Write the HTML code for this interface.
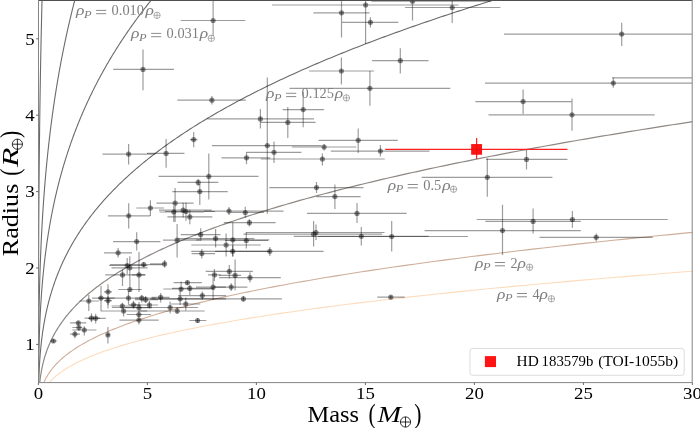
<!DOCTYPE html>
<html><head><meta charset="utf-8"><style>
html,body{margin:0;padding:0;background:#fff;}
body{width:700px;height:428px;overflow:hidden;}
svg{display:block;will-change:transform;}
text{font-family:"Liberation Serif",serif;}
</style></head><body>
<svg width="700" height="428" viewBox="0 0 700 428">
<defs><clipPath id="ax"><rect x="38.5" y="0.6" width="653.7" height="382.0"/></clipPath></defs>
<rect width="700" height="428" fill="#fff"/>
<g clip-path="url(#ax)" fill="none">
<path d="M38.40,382.60 L38.40,381.65 L38.40,380.69 L38.40,379.74 L38.40,378.78 L38.40,377.83 L38.40,376.87 L38.40,375.92 L38.40,374.96 L38.41,374.00 L38.41,373.05 L38.41,372.10 L38.41,371.14 L38.41,370.19 L38.41,369.23 L38.41,368.28 L38.41,367.32 L38.41,366.37 L38.41,365.41 L38.41,364.46 L38.41,363.50 L38.41,362.55 L38.41,361.59 L38.41,360.64 L38.41,359.68 L38.41,358.73 L38.41,357.77 L38.41,356.81 L38.41,355.86 L38.41,354.91 L38.41,353.95 L38.42,353.00 L38.42,352.04 L38.42,351.09 L38.42,350.13 L38.42,349.18 L38.42,348.22 L38.42,347.27 L38.42,346.31 L38.42,345.36 L38.42,344.40 L38.42,343.45 L38.42,342.49 L38.42,341.54 L38.43,340.58 L38.43,339.62 L38.43,338.67 L38.43,337.72 L38.43,336.76 L38.43,335.81 L38.43,334.85 L38.43,333.90 L38.43,332.94 L38.43,331.99 L38.44,331.03 L38.44,330.08 L38.44,329.12 L38.44,328.17 L38.44,327.21 L38.44,326.25 L38.44,325.30 L38.44,324.35 L38.45,323.39 L38.45,322.44 L38.45,321.48 L38.45,320.53 L38.45,319.57 L38.45,318.62 L38.45,317.66 L38.46,316.71 L38.46,315.75 L38.46,314.80 L38.46,313.84 L38.46,312.88 L38.46,311.93 L38.46,310.98 L38.47,310.02 L38.47,309.07 L38.47,308.11 L38.47,307.16 L38.47,306.20 L38.48,305.25 L38.48,304.29 L38.48,303.34 L38.48,302.38 L38.48,301.43 L38.49,300.47 L38.49,299.52 L38.49,298.56 L38.49,297.61 L38.49,296.65 L38.50,295.70 L38.50,294.74 L38.50,293.79 L38.50,292.83 L38.50,291.88 L38.51,290.92 L38.51,289.97 L38.51,289.01 L38.51,288.06 L38.52,287.10 L38.52,286.15 L38.52,285.19 L38.52,284.24 L38.53,283.28 L38.53,282.33 L38.53,281.37 L38.54,280.42 L38.54,279.46 L38.54,278.50 L38.54,277.55 L38.55,276.60 L38.55,275.64 L38.55,274.69 L38.56,273.73 L38.56,272.78 L38.56,271.82 L38.56,270.87 L38.57,269.91 L38.57,268.96 L38.57,268.00 L38.58,267.05 L38.58,266.09 L38.58,265.13 L38.59,264.18 L38.59,263.23 L38.59,262.27 L38.60,261.32 L38.60,260.36 L38.61,259.41 L38.61,258.45 L38.61,257.50 L38.62,256.54 L38.62,255.59 L38.62,254.63 L38.63,253.68 L38.63,252.72 L38.64,251.77 L38.64,250.81 L38.64,249.86 L38.65,248.90 L38.65,247.94 L38.66,246.99 L38.66,246.03 L38.67,245.08 L38.67,244.12 L38.67,243.17 L38.68,242.22 L38.68,241.26 L38.69,240.31 L38.69,239.35 L38.70,238.40 L38.70,237.44 L38.71,236.49 L38.71,235.53 L38.72,234.58 L38.72,233.62 L38.73,232.67 L38.73,231.71 L38.74,230.76 L38.74,229.80 L38.75,228.84 L38.75,227.89 L38.76,226.94 L38.76,225.98 L38.77,225.03 L38.77,224.07 L38.78,223.12 L38.78,222.16 L38.79,221.21 L38.79,220.25 L38.80,219.29 L38.81,218.34 L38.81,217.38 L38.82,216.43 L38.82,215.48 L38.83,214.52 L38.84,213.57 L38.84,212.61 L38.85,211.66 L38.85,210.70 L38.86,209.75 L38.87,208.79 L38.87,207.84 L38.88,206.88 L38.88,205.93 L38.89,204.97 L38.90,204.02 L38.90,203.06 L38.91,202.11 L38.92,201.15 L38.92,200.19 L38.93,199.24 L38.94,198.28 L38.95,197.33 L38.95,196.38 L38.96,195.42 L38.97,194.47 L38.97,193.51 L38.98,192.56 L38.99,191.60 L39.00,190.64 L39.00,189.69 L39.01,188.74 L39.02,187.78 L39.03,186.83 L39.03,185.87 L39.04,184.92 L39.05,183.96 L39.06,183.01 L39.07,182.05 L39.07,181.09 L39.08,180.14 L39.09,179.19 L39.10,178.23 L39.11,177.28 L39.11,176.32 L39.12,175.37 L39.13,174.41 L39.14,173.46 L39.15,172.50 L39.16,171.54 L39.17,170.59 L39.17,169.63 L39.18,168.68 L39.19,167.72 L39.20,166.77 L39.21,165.82 L39.22,164.86 L39.23,163.91 L39.24,162.95 L39.25,162.00 L39.26,161.04 L39.27,160.09 L39.28,159.13 L39.29,158.18 L39.30,157.22 L39.30,156.27 L39.31,155.31 L39.32,154.36 L39.33,153.40 L39.34,152.44 L39.35,151.49 L39.37,150.53 L39.38,149.58 L39.39,148.62 L39.40,147.67 L39.41,146.72 L39.42,145.76 L39.43,144.81 L39.44,143.85 L39.45,142.89 L39.46,141.94 L39.47,140.98 L39.48,140.03 L39.49,139.08 L39.50,138.12 L39.52,137.17 L39.53,136.21 L39.54,135.26 L39.55,134.30 L39.56,133.34 L39.57,132.39 L39.58,131.44 L39.60,130.48 L39.61,129.53 L39.62,128.57 L39.63,127.62 L39.64,126.66 L39.66,125.71 L39.67,124.75 L39.68,123.80 L39.69,122.84 L39.71,121.88 L39.72,120.93 L39.73,119.98 L39.74,119.02 L39.76,118.06 L39.77,117.11 L39.78,116.16 L39.80,115.20 L39.81,114.25 L39.82,113.29 L39.83,112.34 L39.85,111.38 L39.86,110.43 L39.88,109.47 L39.89,108.51 L39.90,107.56 L39.92,106.61 L39.93,105.65 L39.94,104.69 L39.96,103.74 L39.97,102.79 L39.99,101.83 L40.00,100.88 L40.02,99.92 L40.03,98.96 L40.04,98.01 L40.06,97.06 L40.07,96.10 L40.09,95.14 L40.10,94.19 L40.12,93.24 L40.13,92.28 L40.15,91.32 L40.16,90.37 L40.18,89.41 L40.19,88.46 L40.21,87.50 L40.23,86.55 L40.24,85.59 L40.26,84.64 L40.27,83.69 L40.29,82.73 L40.30,81.77 L40.32,80.82 L40.34,79.86 L40.35,78.91 L40.37,77.96 L40.39,77.00 L40.40,76.04 L40.42,75.09 L40.44,74.14 L40.45,73.18 L40.47,72.23 L40.49,71.27 L40.50,70.31 L40.52,69.36 L40.54,68.41 L40.56,67.45 L40.57,66.50 L40.59,65.54 L40.61,64.59 L40.63,63.63 L40.65,62.68 L40.66,61.72 L40.68,60.76 L40.70,59.81 L40.72,58.86 L40.74,57.90 L40.75,56.94 L40.77,55.99 L40.79,55.04 L40.81,54.08 L40.83,53.12 L40.85,52.17 L40.87,51.21 L40.89,50.26 L40.91,49.31 L40.93,48.35 L40.95,47.39 L40.96,46.44 L40.98,45.49 L41.00,44.53 L41.02,43.57 L41.04,42.62 L41.06,41.66 L41.08,40.71 L41.10,39.75 L41.12,38.80 L41.15,37.84 L41.17,36.89 L41.19,35.94 L41.21,34.98 L41.23,34.02 L41.25,33.07 L41.27,32.11 L41.29,31.16 L41.31,30.20 L41.33,29.25 L41.36,28.29 L41.38,27.34 L41.40,26.39 L41.42,25.43 L41.44,24.48 L41.47,23.52 L41.49,22.56 L41.51,21.61 L41.53,20.66 L41.55,19.70 L41.58,18.75 L41.60,17.79 L41.62,16.84 L41.65,15.88 L41.67,14.93 L41.69,13.97 L41.71,13.01 L41.74,12.06 L41.76,11.11 L41.79,10.15 L41.81,9.19 L41.83,8.24 L41.86,7.29 L41.88,6.33 L41.90,5.38 L41.93,4.42 L41.95,3.46 L41.98,2.51 L42.00,1.56 L42.03,0.60" stroke="#6a6a6a" stroke-width="1.1"/>
<path d="M38.43,382.60 L38.43,381.65 L38.43,380.69 L38.43,379.74 L38.44,378.78 L38.44,377.83 L38.44,376.87 L38.44,375.92 L38.45,374.96 L38.45,374.00 L38.45,373.05 L38.46,372.10 L38.46,371.14 L38.46,370.19 L38.47,369.23 L38.47,368.28 L38.47,367.32 L38.48,366.37 L38.48,365.41 L38.49,364.46 L38.49,363.50 L38.50,362.55 L38.50,361.59 L38.51,360.64 L38.51,359.68 L38.52,358.73 L38.52,357.77 L38.53,356.81 L38.53,355.86 L38.54,354.91 L38.55,353.95 L38.55,353.00 L38.56,352.04 L38.57,351.09 L38.57,350.13 L38.58,349.18 L38.59,348.22 L38.59,347.27 L38.60,346.31 L38.61,345.36 L38.62,344.40 L38.63,343.45 L38.63,342.49 L38.64,341.54 L38.65,340.58 L38.66,339.62 L38.67,338.67 L38.68,337.72 L38.69,336.76 L38.70,335.81 L38.71,334.85 L38.72,333.90 L38.73,332.94 L38.74,331.99 L38.75,331.03 L38.77,330.08 L38.78,329.12 L38.79,328.17 L38.80,327.21 L38.81,326.25 L38.83,325.30 L38.84,324.35 L38.85,323.39 L38.87,322.44 L38.88,321.48 L38.89,320.53 L38.91,319.57 L38.92,318.62 L38.94,317.66 L38.95,316.71 L38.97,315.75 L38.98,314.80 L39.00,313.84 L39.01,312.88 L39.03,311.93 L39.05,310.98 L39.06,310.02 L39.08,309.07 L39.10,308.11 L39.12,307.16 L39.14,306.20 L39.15,305.25 L39.17,304.29 L39.19,303.34 L39.21,302.38 L39.23,301.43 L39.25,300.47 L39.27,299.52 L39.29,298.56 L39.31,297.61 L39.34,296.65 L39.36,295.70 L39.38,294.74 L39.40,293.79 L39.42,292.83 L39.45,291.88 L39.47,290.92 L39.49,289.97 L39.52,289.01 L39.54,288.06 L39.57,287.10 L39.59,286.15 L39.62,285.19 L39.65,284.24 L39.67,283.28 L39.70,282.33 L39.73,281.37 L39.75,280.42 L39.78,279.46 L39.81,278.50 L39.84,277.55 L39.87,276.60 L39.90,275.64 L39.92,274.69 L39.96,273.73 L39.99,272.78 L40.02,271.82 L40.05,270.87 L40.08,269.91 L40.11,268.96 L40.14,268.00 L40.18,267.05 L40.21,266.09 L40.24,265.13 L40.28,264.18 L40.31,263.23 L40.35,262.27 L40.38,261.32 L40.42,260.36 L40.46,259.41 L40.49,258.45 L40.53,257.50 L40.57,256.54 L40.60,255.59 L40.64,254.63 L40.68,253.68 L40.72,252.72 L40.76,251.77 L40.80,250.81 L40.84,249.86 L40.88,248.90 L40.92,247.94 L40.97,246.99 L41.01,246.03 L41.05,245.08 L41.10,244.12 L41.14,243.17 L41.18,242.22 L41.23,241.26 L41.27,240.31 L41.32,239.35 L41.37,238.40 L41.41,237.44 L41.46,236.49 L41.51,235.53 L41.56,234.58 L41.61,233.62 L41.66,232.67 L41.71,231.71 L41.76,230.76 L41.81,229.80 L41.86,228.84 L41.91,227.89 L41.96,226.94 L42.01,225.98 L42.07,225.03 L42.12,224.07 L42.18,223.12 L42.23,222.16 L42.29,221.21 L42.34,220.25 L42.40,219.29 L42.46,218.34 L42.51,217.38 L42.57,216.43 L42.63,215.48 L42.69,214.52 L42.75,213.57 L42.81,212.61 L42.87,211.66 L42.93,210.70 L43.00,209.75 L43.06,208.79 L43.12,207.84 L43.19,206.88 L43.25,205.93 L43.31,204.97 L43.38,204.02 L43.45,203.06 L43.51,202.11 L43.58,201.15 L43.65,200.19 L43.72,199.24 L43.79,198.28 L43.86,197.33 L43.93,196.38 L44.00,195.42 L44.07,194.47 L44.14,193.51 L44.21,192.56 L44.29,191.60 L44.36,190.64 L44.43,189.69 L44.51,188.74 L44.59,187.78 L44.66,186.83 L44.74,185.87 L44.82,184.92 L44.89,183.96 L44.97,183.01 L45.05,182.05 L45.13,181.09 L45.21,180.14 L45.30,179.19 L45.38,178.23 L45.46,177.28 L45.54,176.32 L45.63,175.37 L45.71,174.41 L45.80,173.46 L45.88,172.50 L45.97,171.54 L46.06,170.59 L46.15,169.63 L46.23,168.68 L46.32,167.72 L46.41,166.77 L46.50,165.82 L46.60,164.86 L46.69,163.91 L46.78,162.95 L46.87,162.00 L46.97,161.04 L47.06,160.09 L47.16,159.13 L47.25,158.18 L47.35,157.22 L47.45,156.27 L47.55,155.31 L47.65,154.36 L47.75,153.40 L47.85,152.44 L47.95,151.49 L48.05,150.53 L48.15,149.58 L48.26,148.62 L48.36,147.67 L48.47,146.72 L48.57,145.76 L48.68,144.81 L48.78,143.85 L48.89,142.89 L49.00,141.94 L49.11,140.98 L49.22,140.03 L49.33,139.08 L49.44,138.12 L49.55,137.17 L49.67,136.21 L49.78,135.26 L49.90,134.30 L50.01,133.34 L50.13,132.39 L50.24,131.44 L50.36,130.48 L50.48,129.53 L50.60,128.57 L50.72,127.62 L50.84,126.66 L50.96,125.71 L51.08,124.75 L51.21,123.80 L51.33,122.84 L51.46,121.88 L51.58,120.93 L51.71,119.98 L51.84,119.02 L51.96,118.06 L52.09,117.11 L52.22,116.16 L52.35,115.20 L52.48,114.25 L52.62,113.29 L52.75,112.34 L52.88,111.38 L53.02,110.43 L53.15,109.47 L53.29,108.51 L53.42,107.56 L53.56,106.61 L53.70,105.65 L53.84,104.69 L53.98,103.74 L54.12,102.79 L54.26,101.83 L54.41,100.88 L54.55,99.92 L54.70,98.96 L54.84,98.01 L54.99,97.06 L55.13,96.10 L55.28,95.14 L55.43,94.19 L55.58,93.24 L55.73,92.28 L55.88,91.32 L56.04,90.37 L56.19,89.41 L56.34,88.46 L56.50,87.50 L56.66,86.55 L56.81,85.59 L56.97,84.64 L57.13,83.69 L57.29,82.73 L57.45,81.77 L57.61,80.82 L57.77,79.86 L57.94,78.91 L58.10,77.96 L58.27,77.00 L58.43,76.04 L58.60,75.09 L58.77,74.14 L58.93,73.18 L59.10,72.23 L59.28,71.27 L59.45,70.31 L59.62,69.36 L59.79,68.41 L59.97,67.45 L60.14,66.50 L60.32,65.54 L60.50,64.59 L60.67,63.63 L60.85,62.68 L61.03,61.72 L61.21,60.76 L61.40,59.81 L61.58,58.86 L61.76,57.90 L61.95,56.94 L62.13,55.99 L62.32,55.04 L62.51,54.08 L62.70,53.12 L62.89,52.17 L63.08,51.21 L63.27,50.26 L63.46,49.31 L63.66,48.35 L63.85,47.39 L64.05,46.44 L64.24,45.49 L64.44,44.53 L64.64,43.57 L64.84,42.62 L65.04,41.66 L65.24,40.71 L65.45,39.75 L65.65,38.80 L65.85,37.84 L66.06,36.89 L66.27,35.94 L66.48,34.98 L66.68,34.02 L66.89,33.07 L67.11,32.11 L67.32,31.16 L67.53,30.20 L67.75,29.25 L67.96,28.29 L68.18,27.34 L68.39,26.39 L68.61,25.43 L68.83,24.48 L69.05,23.52 L69.27,22.56 L69.50,21.61 L69.72,20.66 L69.95,19.70 L70.17,18.75 L70.40,17.79 L70.63,16.84 L70.86,15.88 L71.09,14.93 L71.32,13.97 L71.55,13.01 L71.78,12.06 L72.02,11.11 L72.25,10.15 L72.49,9.19 L72.73,8.24 L72.97,7.29 L73.21,6.33 L73.45,5.38 L73.69,4.42 L73.93,3.46 L74.18,2.51 L74.42,1.56 L74.67,0.60" stroke="#6a6a6a" stroke-width="1.1"/>
<path d="M38.48,382.60 L38.49,381.65 L38.50,380.69 L38.50,379.74 L38.51,378.78 L38.52,377.83 L38.53,376.87 L38.54,375.92 L38.55,374.96 L38.56,374.00 L38.56,373.05 L38.58,372.10 L38.59,371.14 L38.60,370.19 L38.61,369.23 L38.62,368.28 L38.63,367.32 L38.64,366.37 L38.66,365.41 L38.67,364.46 L38.69,363.50 L38.70,362.55 L38.71,361.59 L38.73,360.64 L38.75,359.68 L38.76,358.73 L38.78,357.77 L38.80,356.81 L38.82,355.86 L38.83,354.91 L38.85,353.95 L38.87,353.00 L38.89,352.04 L38.91,351.09 L38.93,350.13 L38.96,349.18 L38.98,348.22 L39.00,347.27 L39.03,346.31 L39.05,345.36 L39.08,344.40 L39.10,343.45 L39.13,342.49 L39.15,341.54 L39.18,340.58 L39.21,339.62 L39.24,338.67 L39.27,337.72 L39.30,336.76 L39.33,335.81 L39.36,334.85 L39.39,333.90 L39.43,332.94 L39.46,331.99 L39.50,331.03 L39.53,330.08 L39.57,329.12 L39.60,328.17 L39.64,327.21 L39.68,326.25 L39.72,325.30 L39.76,324.35 L39.80,323.39 L39.84,322.44 L39.88,321.48 L39.93,320.53 L39.97,319.57 L40.02,318.62 L40.06,317.66 L40.11,316.71 L40.16,315.75 L40.21,314.80 L40.25,313.84 L40.30,312.88 L40.36,311.93 L40.41,310.98 L40.46,310.02 L40.51,309.07 L40.57,308.11 L40.62,307.16 L40.68,306.20 L40.74,305.25 L40.80,304.29 L40.86,303.34 L40.92,302.38 L40.98,301.43 L41.04,300.47 L41.10,299.52 L41.17,298.56 L41.23,297.61 L41.30,296.65 L41.37,295.70 L41.44,294.74 L41.51,293.79 L41.58,292.83 L41.65,291.88 L41.72,290.92 L41.79,289.97 L41.87,289.01 L41.94,288.06 L42.02,287.10 L42.10,286.15 L42.18,285.19 L42.26,284.24 L42.34,283.28 L42.42,282.33 L42.51,281.37 L42.59,280.42 L42.68,279.46 L42.77,278.50 L42.85,277.55 L42.94,276.60 L43.04,275.64 L43.13,274.69 L43.22,273.73 L43.32,272.78 L43.41,271.82 L43.51,270.87 L43.61,269.91 L43.71,268.96 L43.81,268.00 L43.91,267.05 L44.01,266.09 L44.12,265.13 L44.22,264.18 L44.33,263.23 L44.44,262.27 L44.55,261.32 L44.66,260.36 L44.77,259.41 L44.88,258.45 L45.00,257.50 L45.12,256.54 L45.23,255.59 L45.35,254.63 L45.47,253.68 L45.60,252.72 L45.72,251.77 L45.84,250.81 L45.97,249.86 L46.10,248.90 L46.23,247.94 L46.36,246.99 L46.49,246.03 L46.62,245.08 L46.76,244.12 L46.89,243.17 L47.03,242.22 L47.17,241.26 L47.31,240.31 L47.45,239.35 L47.60,238.40 L47.74,237.44 L47.89,236.49 L48.04,235.53 L48.19,234.58 L48.34,233.62 L48.49,232.67 L48.65,231.71 L48.80,230.76 L48.96,229.80 L49.12,228.84 L49.28,227.89 L49.44,226.94 L49.61,225.98 L49.77,225.03 L49.94,224.07 L50.11,223.12 L50.28,222.16 L50.45,221.21 L50.62,220.25 L50.80,219.29 L50.98,218.34 L51.16,217.38 L51.34,216.43 L51.52,215.48 L51.70,214.52 L51.89,213.57 L52.07,212.61 L52.26,211.66 L52.45,210.70 L52.65,209.75 L52.84,208.79 L53.04,207.84 L53.24,206.88 L53.43,205.93 L53.64,204.97 L53.84,204.02 L54.04,203.06 L54.25,202.11 L54.46,201.15 L54.67,200.19 L54.88,199.24 L55.10,198.28 L55.31,197.33 L55.53,196.38 L55.75,195.42 L55.97,194.47 L56.19,193.51 L56.42,192.56 L56.65,191.60 L56.88,190.64 L57.11,189.69 L57.34,188.74 L57.57,187.78 L57.81,186.83 L58.05,185.87 L58.29,184.92 L58.53,183.96 L58.78,183.01 L59.02,182.05 L59.27,181.09 L59.52,180.14 L59.78,179.19 L60.03,178.23 L60.29,177.28 L60.54,176.32 L60.81,175.37 L61.07,174.41 L61.33,173.46 L61.60,172.50 L61.87,171.54 L62.14,170.59 L62.41,169.63 L62.69,168.68 L62.96,167.72 L63.24,166.77 L63.52,165.82 L63.81,164.86 L64.09,163.91 L64.38,162.95 L64.67,162.00 L64.96,161.04 L65.26,160.09 L65.55,159.13 L65.85,158.18 L66.15,157.22 L66.45,156.27 L66.76,155.31 L67.07,154.36 L67.37,153.40 L67.69,152.44 L68.00,151.49 L68.32,150.53 L68.63,149.58 L68.96,148.62 L69.28,147.67 L69.60,146.72 L69.93,145.76 L70.26,144.81 L70.59,143.85 L70.93,142.89 L71.26,141.94 L71.60,140.98 L71.94,140.03 L72.29,139.08 L72.63,138.12 L72.98,137.17 L73.33,136.21 L73.68,135.26 L74.04,134.30 L74.40,133.34 L74.76,132.39 L75.12,131.44 L75.48,130.48 L75.85,129.53 L76.22,128.57 L76.59,127.62 L76.97,126.66 L77.34,125.71 L77.72,124.75 L78.10,123.80 L78.49,122.84 L78.87,121.88 L79.26,120.93 L79.66,119.98 L80.05,119.02 L80.45,118.06 L80.85,117.11 L81.25,116.16 L81.65,115.20 L82.06,114.25 L82.47,113.29 L82.88,112.34 L83.29,111.38 L83.71,110.43 L84.13,109.47 L84.55,108.51 L84.98,107.56 L85.40,106.61 L85.83,105.65 L86.27,104.69 L86.70,103.74 L87.14,102.79 L87.58,101.83 L88.02,100.88 L88.47,99.92 L88.92,98.96 L89.37,98.01 L89.82,97.06 L90.28,96.10 L90.74,95.14 L91.20,94.19 L91.66,93.24 L92.13,92.28 L92.60,91.32 L93.07,90.37 L93.55,89.41 L94.03,88.46 L94.51,87.50 L94.99,86.55 L95.48,85.59 L95.97,84.64 L96.46,83.69 L96.95,82.73 L97.45,81.77 L97.95,80.82 L98.46,79.86 L98.96,78.91 L99.47,77.96 L99.98,77.00 L100.50,76.04 L101.01,75.09 L101.53,74.14 L102.06,73.18 L102.58,72.23 L103.11,71.27 L103.64,70.31 L104.18,69.36 L104.72,68.41 L105.26,67.45 L105.80,66.50 L106.35,65.54 L106.90,64.59 L107.45,63.63 L108.01,62.68 L108.56,61.72 L109.12,60.76 L109.69,59.81 L110.26,58.86 L110.83,57.90 L111.40,56.94 L111.98,55.99 L112.56,55.04 L113.14,54.08 L113.72,53.12 L114.31,52.17 L114.90,51.21 L115.50,50.26 L116.10,49.31 L116.70,48.35 L117.30,47.39 L117.91,46.44 L118.52,45.49 L119.13,44.53 L119.75,43.57 L120.37,42.62 L120.99,41.66 L121.61,40.71 L122.24,39.75 L122.88,38.80 L123.51,37.84 L124.15,36.89 L124.79,35.94 L125.43,34.98 L126.08,34.02 L126.73,33.07 L127.39,32.11 L128.05,31.16 L128.71,30.20 L129.37,29.25 L130.04,28.29 L130.71,27.34 L131.38,26.39 L132.06,25.43 L132.74,24.48 L133.42,23.52 L134.11,22.56 L134.80,21.61 L135.49,20.66 L136.19,19.70 L136.89,18.75 L137.59,17.79 L138.30,16.84 L139.01,15.88 L139.72,14.93 L140.44,13.97 L141.16,13.01 L141.89,12.06 L142.61,11.11 L143.34,10.15 L144.08,9.19 L144.81,8.24 L145.55,7.29 L146.30,6.33 L147.05,5.38 L147.80,4.42 L148.55,3.46 L149.31,2.51 L150.07,1.56 L150.84,0.60" stroke="#6a6a6a" stroke-width="1.1"/>
<path d="M38.74,382.60 L38.77,381.65 L38.79,380.69 L38.82,379.74 L38.85,378.78 L38.88,377.83 L38.92,376.87 L38.95,375.92 L38.99,374.96 L39.03,374.00 L39.07,373.05 L39.11,372.10 L39.15,371.14 L39.19,370.19 L39.24,369.23 L39.29,368.28 L39.33,367.32 L39.39,366.37 L39.44,365.41 L39.49,364.46 L39.55,363.50 L39.61,362.55 L39.67,361.59 L39.73,360.64 L39.80,359.68 L39.86,358.73 L39.93,357.77 L40.00,356.81 L40.07,355.86 L40.15,354.91 L40.23,353.95 L40.30,353.00 L40.39,352.04 L40.47,351.09 L40.56,350.13 L40.65,349.18 L40.74,348.22 L40.83,347.27 L40.93,346.31 L41.02,345.36 L41.12,344.40 L41.23,343.45 L41.33,342.49 L41.44,341.54 L41.55,340.58 L41.67,339.62 L41.79,338.67 L41.90,337.72 L42.03,336.76 L42.15,335.81 L42.28,334.85 L42.41,333.90 L42.54,332.94 L42.68,331.99 L42.82,331.03 L42.96,330.08 L43.11,329.12 L43.26,328.17 L43.41,327.21 L43.56,326.25 L43.72,325.30 L43.88,324.35 L44.05,323.39 L44.22,322.44 L44.39,321.48 L44.56,320.53 L44.74,319.57 L44.92,318.62 L45.10,317.66 L45.29,316.71 L45.48,315.75 L45.68,314.80 L45.88,313.84 L46.08,312.88 L46.29,311.93 L46.49,310.98 L46.71,310.02 L46.92,309.07 L47.14,308.11 L47.37,307.16 L47.60,306.20 L47.83,305.25 L48.06,304.29 L48.30,303.34 L48.55,302.38 L48.80,301.43 L49.05,300.47 L49.30,299.52 L49.56,298.56 L49.83,297.61 L50.09,296.65 L50.36,295.70 L50.64,294.74 L50.92,293.79 L51.21,292.83 L51.49,291.88 L51.79,290.92 L52.09,289.97 L52.39,289.01 L52.69,288.06 L53.00,287.10 L53.32,286.15 L53.64,285.19 L53.96,284.24 L54.29,283.28 L54.63,282.33 L54.96,281.37 L55.31,280.42 L55.65,279.46 L56.01,278.50 L56.36,277.55 L56.72,276.60 L57.09,275.64 L57.46,274.69 L57.84,273.73 L58.22,272.78 L58.61,271.82 L59.00,270.87 L59.39,269.91 L59.79,268.96 L60.20,268.00 L60.61,267.05 L61.03,266.09 L61.45,265.13 L61.88,264.18 L62.31,263.23 L62.75,262.27 L63.19,261.32 L63.64,260.36 L64.09,259.41 L64.55,258.45 L65.01,257.50 L65.48,256.54 L65.96,255.59 L66.44,254.63 L66.92,253.68 L67.42,252.72 L67.91,251.77 L68.42,250.81 L68.92,249.86 L69.44,248.90 L69.96,247.94 L70.49,246.99 L71.02,246.03 L71.56,245.08 L72.10,244.12 L72.65,243.17 L73.20,242.22 L73.76,241.26 L74.33,240.31 L74.91,239.35 L75.48,238.40 L76.07,237.44 L76.66,236.49 L77.26,235.53 L77.86,234.58 L78.47,233.62 L79.09,232.67 L79.71,231.71 L80.34,230.76 L80.98,229.80 L81.62,228.84 L82.27,227.89 L82.92,226.94 L83.58,225.98 L84.25,225.03 L84.93,224.07 L85.61,223.12 L86.29,222.16 L86.99,221.21 L87.69,220.25 L88.40,219.29 L89.11,218.34 L89.83,217.38 L90.56,216.43 L91.29,215.48 L92.04,214.52 L92.78,213.57 L93.54,212.61 L94.30,211.66 L95.07,210.70 L95.85,209.75 L96.63,208.79 L97.42,207.84 L98.22,206.88 L99.02,205.93 L99.84,204.97 L100.65,204.02 L101.48,203.06 L102.32,202.11 L103.16,201.15 L104.00,200.19 L104.86,199.24 L105.72,198.28 L106.59,197.33 L107.47,196.38 L108.36,195.42 L109.25,194.47 L110.15,193.51 L111.06,192.56 L111.97,191.60 L112.90,190.64 L113.83,189.69 L114.77,188.74 L115.72,187.78 L116.67,186.83 L117.63,185.87 L118.60,184.92 L119.58,183.96 L120.57,183.01 L121.56,182.05 L122.56,181.09 L123.57,180.14 L124.59,179.19 L125.62,178.23 L126.65,177.28 L127.69,176.32 L128.74,175.37 L129.80,174.41 L130.87,173.46 L131.94,172.50 L133.03,171.54 L134.12,170.59 L135.22,169.63 L136.33,168.68 L137.45,167.72 L138.57,166.77 L139.70,165.82 L140.85,164.86 L142.00,163.91 L143.16,162.95 L144.33,162.00 L145.50,161.04 L146.69,160.09 L147.88,159.13 L149.09,158.18 L150.30,157.22 L151.52,156.27 L152.75,155.31 L153.99,154.36 L155.23,153.40 L156.49,152.44 L157.76,151.49 L159.03,150.53 L160.31,149.58 L161.61,148.62 L162.91,147.67 L164.22,146.72 L165.54,145.76 L166.87,144.81 L168.20,143.85 L169.55,142.89 L170.91,141.94 L172.27,140.98 L173.65,140.03 L175.04,139.08 L176.43,138.12 L177.83,137.17 L179.25,136.21 L180.67,135.26 L182.10,134.30 L183.54,133.34 L184.99,132.39 L186.46,131.44 L187.93,130.48 L189.41,129.53 L190.90,128.57 L192.40,127.62 L193.91,126.66 L195.43,125.71 L196.96,124.75 L198.49,123.80 L200.04,122.84 L201.60,121.88 L203.17,120.93 L204.75,119.98 L206.34,119.02 L207.94,118.06 L209.55,117.11 L211.17,116.16 L212.80,115.20 L214.44,114.25 L216.09,113.29 L217.75,112.34 L219.42,111.38 L221.10,110.43 L222.80,109.47 L224.50,108.51 L226.21,107.56 L227.93,106.61 L229.67,105.65 L231.41,104.69 L233.16,103.74 L234.93,102.79 L236.71,101.83 L238.49,100.88 L240.29,99.92 L242.10,98.96 L243.92,98.01 L245.75,97.06 L247.59,96.10 L249.44,95.14 L251.30,94.19 L253.17,93.24 L255.06,92.28 L256.95,91.32 L258.86,90.37 L260.77,89.41 L262.70,88.46 L264.64,87.50 L266.59,86.55 L268.55,85.59 L270.53,84.64 L272.51,83.69 L274.51,82.73 L276.51,81.77 L278.53,80.82 L280.56,79.86 L282.60,78.91 L284.65,77.96 L286.72,77.00 L288.79,76.04 L290.88,75.09 L292.98,74.14 L295.09,73.18 L297.21,72.23 L299.34,71.27 L301.48,70.31 L303.64,69.36 L305.81,68.41 L307.99,67.45 L310.18,66.50 L312.38,65.54 L314.60,64.59 L316.83,63.63 L319.07,62.68 L321.32,61.72 L323.58,60.76 L325.86,59.81 L328.14,58.86 L330.44,57.90 L332.76,56.94 L335.08,55.99 L337.41,55.04 L339.76,54.08 L342.12,53.12 L344.50,52.17 L346.88,51.21 L349.28,50.26 L351.69,49.31 L354.11,48.35 L356.55,47.39 L358.99,46.44 L361.45,45.49 L363.93,44.53 L366.41,43.57 L368.91,42.62 L371.42,41.66 L373.94,40.71 L376.48,39.75 L379.02,38.80 L381.59,37.84 L384.16,36.89 L386.75,35.94 L389.35,34.98 L391.96,34.02 L394.58,33.07 L397.22,32.11 L399.87,31.16 L402.54,30.20 L405.22,29.25 L407.91,28.29 L410.61,27.34 L413.33,26.39 L416.06,25.43 L418.80,24.48 L421.56,23.52 L424.33,22.56 L427.11,21.61 L429.91,20.66 L432.72,19.70 L435.54,18.75 L438.38,17.79 L441.23,16.84 L444.09,15.88 L446.97,14.93 L449.86,13.97 L452.76,13.01 L455.68,12.06 L458.61,11.11 L461.56,10.15 L464.52,9.19 L467.49,8.24 L470.48,7.29 L473.48,6.33 L476.49,5.38 L479.52,4.42 L482.56,3.46 L485.62,2.51 L488.69,1.56 L491.77,0.60" stroke="#6a6a6a" stroke-width="1.1"/>
<path d="M39.76,382.60 L39.87,381.65 L39.98,380.69 L40.09,379.74 L40.21,378.78 L40.34,377.83 L40.47,376.87 L40.61,375.92 L40.75,374.96 L40.90,374.00 L41.06,373.05 L41.22,372.10 L41.39,371.14 L41.57,370.19 L41.75,369.23 L41.94,368.28 L42.14,367.32 L42.34,366.37 L42.55,365.41 L42.77,364.46 L43.00,363.50 L43.23,362.55 L43.47,361.59 L43.72,360.64 L43.98,359.68 L44.25,358.73 L44.52,357.77 L44.80,356.81 L45.09,355.86 L45.39,354.91 L45.70,353.95 L46.02,353.00 L46.35,352.04 L46.68,351.09 L47.03,350.13 L47.38,349.18 L47.75,348.22 L48.12,347.27 L48.50,346.31 L48.90,345.36 L49.30,344.40 L49.71,343.45 L50.14,342.49 L50.57,341.54 L51.02,340.58 L51.47,339.62 L51.94,338.67 L52.42,337.72 L52.91,336.76 L53.41,335.81 L53.92,334.85 L54.44,333.90 L54.98,332.94 L55.52,331.99 L56.08,331.03 L56.65,330.08 L57.24,329.12 L57.83,328.17 L58.44,327.21 L59.06,326.25 L59.69,325.30 L60.33,324.35 L60.99,323.39 L61.66,322.44 L62.35,321.48 L63.04,320.53 L63.76,319.57 L64.48,318.62 L65.22,317.66 L65.97,316.71 L66.74,315.75 L67.52,314.80 L68.31,313.84 L69.12,312.88 L69.94,311.93 L70.78,310.98 L71.63,310.02 L72.50,309.07 L73.38,308.11 L74.28,307.16 L75.19,306.20 L76.11,305.25 L77.06,304.29 L78.02,303.34 L78.99,302.38 L79.98,301.43 L80.99,300.47 L82.01,299.52 L83.05,298.56 L84.10,297.61 L85.17,296.65 L86.26,295.70 L87.36,294.74 L88.49,293.79 L89.62,292.83 L90.78,291.88 L91.95,290.92 L93.14,289.97 L94.35,289.01 L95.57,288.06 L96.82,287.10 L98.08,286.15 L99.36,285.19 L100.65,284.24 L101.97,283.28 L103.30,282.33 L104.65,281.37 L106.03,280.42 L107.41,279.46 L108.82,278.50 L110.25,277.55 L111.70,276.60 L113.16,275.64 L114.65,274.69 L116.15,273.73 L117.68,272.78 L119.22,271.82 L120.79,270.87 L122.37,269.91 L123.98,268.96 L125.60,268.00 L127.25,267.05 L128.91,266.09 L130.60,265.13 L132.30,264.18 L134.03,263.23 L135.78,262.27 L137.55,261.32 L139.34,260.36 L141.16,259.41 L142.99,258.45 L144.85,257.50 L146.73,256.54 L148.63,255.59 L150.55,254.63 L152.50,253.68 L154.46,252.72 L156.45,251.77 L158.47,250.81 L160.50,249.86 L162.56,248.90 L164.64,247.94 L166.74,246.99 L168.87,246.03 L171.02,245.08 L173.19,244.12 L175.39,243.17 L177.61,242.22 L179.86,241.26 L182.13,240.31 L184.42,239.35 L186.74,238.40 L189.08,237.44 L191.45,236.49 L193.84,235.53 L196.26,234.58 L198.70,233.62 L201.16,232.67 L203.65,231.71 L206.17,230.76 L208.71,229.80 L211.28,228.84 L213.87,227.89 L216.49,226.94 L219.14,225.98 L221.81,225.03 L224.51,224.07 L227.23,223.12 L229.98,222.16 L232.75,221.21 L235.56,220.25 L238.39,219.29 L241.24,218.34 L244.13,217.38 L247.04,216.43 L249.98,215.48 L252.94,214.52 L255.94,213.57 L258.96,212.61 L262.01,211.66 L265.09,210.70 L268.19,209.75 L271.32,208.79 L274.49,207.84 L277.68,206.88 L280.90,205.93 L284.14,204.97 L287.42,204.02 L290.73,203.06 L294.06,202.11 L297.42,201.15 L300.82,200.19 L304.24,199.24 L307.69,198.28 L311.17,197.33 L314.69,196.38 L318.23,195.42 L321.80,194.47 L325.40,193.51 L329.04,192.56 L332.70,191.60 L336.39,190.64 L340.12,189.69 L343.87,188.74 L347.66,187.78 L351.48,186.83 L355.33,185.87 L359.21,184.92 L363.12,183.96 L367.07,183.01 L371.04,182.05 L375.05,181.09 L379.09,180.14 L383.16,179.19 L387.27,178.23 L391.40,177.28 L395.57,176.32 L399.77,175.37 L404.01,174.41 L408.28,173.46 L412.58,172.50 L416.91,171.54 L421.28,170.59 L425.68,169.63 L430.11,168.68 L434.58,167.72 L439.08,166.77 L443.62,165.82 L448.19,164.86 L452.79,163.91 L457.43,162.95 L462.11,162.00 L466.81,161.04 L471.56,160.09 L476.33,159.13 L481.15,158.18 L485.99,157.22 L490.88,156.27 L495.79,155.31 L500.75,154.36 L505.74,153.40 L510.76,152.44 L515.82,151.49 L520.92,150.53 L526.05,149.58 L531.22,148.62 L536.43,147.67 L541.67,146.72 L546.95,145.76 L552.27,144.81 L557.62,143.85 L563.01,142.89 L568.44,141.94 L573.90,140.98 L579.40,140.03 L584.94,139.08 L590.52,138.12 L596.13,137.17 L601.79,136.21 L607.48,135.26 L613.20,134.30 L618.97,133.34 L624.78,132.39 L630.62,131.44 L636.50,130.48 L642.43,129.53 L648.39,128.57 L654.39,127.62 L660.43,126.66 L666.50,125.71 L672.62,124.75 L678.78,123.80 L684.98,122.84 L691.21,121.88 L697.49,120.93" stroke="#8e8884" stroke-width="1.2"/>
<path d="M43.85,382.60 L44.27,381.65 L44.71,380.69 L45.17,379.74 L45.65,378.78 L46.16,377.83 L46.69,376.87 L47.24,375.92 L47.82,374.96 L48.42,374.00 L49.04,373.05 L49.70,372.10 L50.37,371.14 L51.08,370.19 L51.81,369.23 L52.57,368.28 L53.35,367.32 L54.17,366.37 L55.02,365.41 L55.89,364.46 L56.79,363.50 L57.73,362.55 L58.70,361.59 L59.69,360.64 L60.72,359.68 L61.79,358.73 L62.88,357.77 L64.01,356.81 L65.18,355.86 L66.37,354.91 L67.61,353.95 L68.88,353.00 L70.18,352.04 L71.53,351.09 L72.91,350.13 L74.33,349.18 L75.78,348.22 L77.28,347.27 L78.81,346.31 L80.39,345.36 L82.00,344.40 L83.66,343.45 L85.35,342.49 L87.09,341.54 L88.87,340.58 L90.70,339.62 L92.56,338.67 L94.48,337.72 L96.43,336.76 L98.43,335.81 L100.48,334.85 L102.57,333.90 L104.71,332.94 L106.90,331.99 L109.13,331.03 L111.41,330.08 L113.74,329.12 L116.12,328.17 L118.55,327.21 L121.03,326.25 L123.56,325.30 L126.14,324.35 L128.77,323.39 L131.45,322.44 L134.19,321.48 L136.98,320.53 L139.82,319.57 L142.72,318.62 L145.67,317.66 L148.68,316.71 L151.74,315.75 L154.86,314.80 L158.04,313.84 L161.27,312.88 L164.56,311.93 L167.91,310.98 L171.32,310.02 L174.79,309.07 L178.31,308.11 L181.90,307.16 L185.55,306.20 L189.26,305.25 L193.03,304.29 L196.86,303.34 L200.76,302.38 L204.72,301.43 L208.74,300.47 L212.83,299.52 L216.99,298.56 L221.20,297.61 L225.49,296.65 L229.84,295.70 L234.26,294.74 L238.74,293.79 L243.29,292.83 L247.92,291.88 L252.61,290.92 L257.37,289.97 L262.20,289.01 L267.10,288.06 L272.07,287.10 L277.11,286.15 L282.23,285.19 L287.41,284.24 L292.68,283.28 L298.01,282.33 L303.42,281.37 L308.90,280.42 L314.46,279.46 L320.09,278.50 L325.80,277.55 L331.59,276.60 L337.45,275.64 L343.39,274.69 L349.41,273.73 L355.51,272.78 L361.69,271.82 L367.95,270.87 L374.28,269.91 L380.70,268.96 L387.20,268.00 L393.78,267.05 L400.44,266.09 L407.19,265.13 L414.02,264.18 L420.93,263.23 L427.93,262.27 L435.01,261.32 L442.18,260.36 L449.43,259.41 L456.77,258.45 L464.20,257.50 L471.71,256.54 L479.31,255.59 L487.01,254.63 L494.78,253.68 L502.65,252.72 L510.61,251.77 L518.66,250.81 L526.80,249.86 L535.03,248.90 L543.35,247.94 L551.77,246.99 L560.28,246.03 L568.88,245.08 L577.58,244.12 L586.37,243.17 L595.25,242.22 L604.24,241.26 L613.31,240.31 L622.49,239.35 L631.76,238.40 L641.13,237.44 L650.59,236.49 L660.16,235.53 L669.82,234.58 L679.59,233.62 L689.45,232.67 L699.42,231.71" stroke="#cfae9a" stroke-width="1.1"/>
<path d="M49.30,382.60 L50.14,381.65 L51.02,380.69 L51.94,379.74 L52.91,378.78 L53.92,377.83 L54.98,376.87 L56.08,375.92 L57.24,374.96 L58.44,374.00 L59.69,373.05 L60.99,372.10 L62.35,371.14 L63.76,370.19 L65.22,369.23 L66.74,368.28 L68.31,367.32 L69.94,366.37 L71.63,365.41 L73.38,364.46 L75.19,363.50 L77.06,362.55 L78.99,361.59 L80.99,360.64 L83.05,359.68 L85.17,358.73 L87.36,357.77 L89.62,356.81 L91.95,355.86 L94.35,354.91 L96.82,353.95 L99.36,353.00 L101.97,352.04 L104.65,351.09 L107.41,350.13 L110.25,349.18 L113.16,348.22 L116.15,347.27 L119.22,346.31 L122.37,345.36 L125.60,344.40 L128.91,343.45 L132.30,342.49 L135.78,341.54 L139.34,340.58 L142.99,339.62 L146.73,338.67 L150.55,337.72 L154.46,336.76 L158.47,335.81 L162.56,334.85 L166.74,333.90 L171.02,332.94 L175.39,331.99 L179.86,331.03 L184.42,330.08 L189.08,329.12 L193.84,328.17 L198.70,327.21 L203.65,326.25 L208.71,325.30 L213.87,324.35 L219.14,323.39 L224.51,322.44 L229.98,321.48 L235.56,320.53 L241.24,319.57 L247.04,318.62 L252.94,317.66 L258.96,316.71 L265.09,315.75 L271.32,314.80 L277.68,313.84 L284.14,312.88 L290.73,311.93 L297.42,310.98 L304.24,310.02 L311.17,309.07 L318.23,308.11 L325.40,307.16 L332.70,306.20 L340.12,305.25 L347.66,304.29 L355.33,303.34 L363.12,302.38 L371.04,301.43 L379.09,300.47 L387.27,299.52 L395.57,298.56 L404.01,297.61 L412.58,296.65 L421.28,295.70 L430.11,294.74 L439.08,293.79 L448.19,292.83 L457.43,291.88 L466.81,290.92 L476.33,289.97 L485.99,289.01 L495.79,288.06 L505.74,287.10 L515.82,286.15 L526.05,285.19 L536.43,284.24 L546.95,283.28 L557.62,282.33 L568.44,281.37 L579.40,280.42 L590.52,279.46 L601.79,278.50 L613.20,277.55 L624.78,276.60 L636.50,275.64 L648.39,274.69 L660.43,273.73 L672.62,272.78 L684.98,271.82 L697.49,270.87" stroke="#fddcbd" stroke-width="1.1"/>
</g>
<g clip-path="url(#ax)" fill="none" stroke="#000" stroke-opacity="0.39" stroke-width="1.2">
<path d="M113.2,69.4H174.0"/><path d="M143.0,49.4V90.2"/>
<path d="M180.7,20.5H245.3"/><path d="M213.1,0.0V36.0"/>
<path d="M313.4,12.8H369.6"/><path d="M341.5,0.0V37.4"/>
<path d="M272.1,5.0H458.5"/><path d="M365.6,0.0V44.0"/>
<path d="M309.1,71.0H374.0"/><path d="M341.4,57.4V84.5"/>
<path d="M371.3,1.2H491.0"/><path d="M412.5,0.0V20.4"/>
<path d="M405.1,7.5H500.4"/><path d="M452.2,0.0V23.0"/>
<path d="M342.0,22.3H398.3"/><path d="M370.4,17.3V27.4"/>
<path d="M372.1,60.7H428.5"/><path d="M400.3,48.3V73.5"/>
<path d="M289.5,88.3H450.3"/><path d="M369.9,70.9V105.7"/>
<path d="M504.0,34.1H692.0"/><path d="M621.7,22.7V46.1"/>
<path d="M485.0,83.1H692.0"/><path d="M613.3,77.8V87.8"/>
<path d="M475.4,101.6H571.5"/><path d="M523.1,89.5V114.1"/>
<path d="M488.5,114.8H654.6"/><path d="M572.0,98.6V130.8"/>
<path d="M177.3,100.2H245.8"/><path d="M211.9,96.0V104.5"/>
<path d="M102.5,154.1H155.5"/><path d="M128.6,143.9V164.6"/>
<path d="M147.0,153.4H184.5"/><path d="M166.1,139.0V167.7"/>
<path d="M190.0,139.6H197.4"/><path d="M193.7,132.1V147.2"/>
<path d="M177.5,182.4H218.3"/><path d="M198.2,179.0V186.0"/>
<path d="M172.3,191.6H227.7"/><path d="M199.8,184.0V205.1"/>
<path d="M282.6,109.6H324.1"/><path d="M303.2,92.0V127.2"/>
<path d="M207.2,118.9H314.0"/><path d="M260.4,109.0V128.4"/>
<path d="M260.6,122.4H315.6"/><path d="M287.8,107.0V138.0"/>
<path d="M211.9,145.6H321.7"/><path d="M267.3,77.4V213.8"/>
<path d="M246.5,152.3H301.4"/><path d="M274.0,141.5V163.0"/>
<path d="M221.5,157.8H270.4"/><path d="M246.5,152.3V164.2"/>
<path d="M291.9,147.0H356.3"/><path d="M324.1,143.9V150.4"/>
<path d="M318.6,140.3H397.8"/><path d="M358.2,128.4V153.0"/>
<path d="M260.9,159.0H384.7"/><path d="M322.4,153.5V165.4"/>
<path d="M158.5,176.4H258.5"/><path d="M208.8,153.5V199.6"/>
<path d="M269.3,187.6H363.5"/><path d="M316.5,182.1V192.9"/>
<path d="M316.5,196.6H360.6"/><path d="M334.9,184.5V209.1"/>
<path d="M330.8,151.1H429.5"/><path d="M380.4,145.1V156.6"/>
<path d="M421.7,177.3H552.4"/><path d="M487.3,158.2V196.7"/>
<path d="M486.0,159.4H567.5"/><path d="M526.5,149.4V169.5"/>
<path d="M156.5,203.2H193.6"/><path d="M175.1,188.0V222.0"/>
<path d="M136.3,208.0H164.0"/><path d="M150.4,200.2V215.9"/>
<path d="M108.0,215.8H150.3"/><path d="M128.7,203.2V228.6"/>
<path d="M159.6,212.0H204.0"/><path d="M173.8,205.9V222.0"/>
<path d="M159.0,210.2H211.7"/><path d="M183.2,202.7V217.5"/>
<path d="M165.0,211.5H215.0"/><path d="M186.0,202.7V220.7"/>
<path d="M167.4,216.9H212.3"/><path d="M189.8,209.8V224.3"/>
<path d="M163.0,240.2H200.0"/><path d="M177.1,224.0V257.6"/>
<path d="M180.8,234.7H220.5"/><path d="M200.7,228.2V241.0"/>
<path d="M191.6,253.7H215.0"/><path d="M201.8,248.9V258.5"/>
<path d="M113.1,241.6H160.4"/><path d="M136.7,232.2V250.6"/>
<path d="M104.0,252.9H132.0"/><path d="M118.1,248.0V257.4"/>
<path d="M204.0,211.1H283.5"/><path d="M229.0,207.0V215.0"/>
<path d="M230.9,212.5H263.9"/><path d="M245.3,206.7V217.7"/>
<path d="M223.8,222.7H275.6"/><path d="M249.4,219.3V226.4"/>
<path d="M196.3,239.8H269.4"/><path d="M232.8,222.5V256.5"/>
<path d="M178.3,238.6H254.4"/><path d="M215.6,229.0V247.5"/>
<path d="M191.3,245.0H260.7"/><path d="M226.1,233.5V256.5"/>
<path d="M225.0,240.5H268.0"/><path d="M246.3,232.6V248.6"/>
<path d="M245.8,232.5H384.5"/><path d="M316.0,224.6V240.1"/>
<path d="M243.4,234.2H382.1"/><path d="M313.6,221.0V246.6"/>
<path d="M306.9,213.4H406.7"/><path d="M357.0,203.1V222.9"/>
<path d="M293.7,236.3H428.7"/><path d="M361.3,227.0V245.4"/>
<path d="M318.0,236.5H467.9"/><path d="M391.7,221.0V251.6"/>
<path d="M191.3,251.3H270.0"/><path d="M232.7,245.5V256.5"/>
<path d="M215.1,251.3H323.6"/><path d="M269.8,247.0V256.0"/>
<path d="M424.6,230.6H580.8"/><path d="M502.5,204.8V254.9"/>
<path d="M485.3,221.4H580.8"/><path d="M533.1,208.6V233.4"/>
<path d="M476.7,219.5H667.7"/><path d="M572.4,211.0V227.7"/>
<path d="M539.6,237.3H652.7"/><path d="M596.2,233.4V241.5"/>
<path d="M109.1,265.5H147.6"/><path d="M127.2,258.0V274.0"/>
<path d="M111.5,267.8H147.6"/><path d="M129.8,256.3V279.6"/>
<path d="M131.9,274.9H145.3"/><path d="M139.0,252.0V292.1"/>
<path d="M109.9,264.6H162.6"/><path d="M143.7,262.0V267.3"/>
<path d="M150.0,263.9H166.0"/><path d="M164.6,259.9V267.8"/>
<path d="M105.2,274.9H145.3"/><path d="M122.5,269.4V285.9"/>
<path d="M118.3,289.5H141.8"/><path d="M129.9,279.6V292.1"/>
<path d="M104.0,291.8H112.0"/><path d="M108.0,284.3V308.6"/>
<path d="M104.0,300.6H112.0"/><path d="M108.0,296.0V305.0"/>
<path d="M92.0,298.1H114.6"/><path d="M101.0,285.9V311.2"/>
<path d="M98.0,298.1H140.6"/><path d="M128.5,290.6V304.7"/>
<path d="M135.1,298.1H155.5"/><path d="M141.8,295.0V302.4"/>
<path d="M135.0,299.7H158.0"/><path d="M145.6,296.0V303.0"/>
<path d="M151.6,297.3H169.6"/><path d="M160.7,292.9V302.4"/>
<path d="M111.5,306.0H135.1"/><path d="M122.3,302.8V309.7"/>
<path d="M128.8,304.8H140.6"/><path d="M133.5,300.8V308.6"/>
<path d="M125.0,307.7H152.0"/><path d="M139.0,302.0V312.0"/>
<path d="M134.3,305.0H157.9"/><path d="M149.4,300.8V308.6"/>
<path d="M173.6,282.7H201.9"/><path d="M187.4,280.5V285.0"/>
<path d="M163.4,289.0H215.0"/><path d="M181.1,281.5V292.1"/>
<path d="M172.0,288.4H213.1"/><path d="M189.8,285.0V295.0"/>
<path d="M151.6,298.8H226.0"/><path d="M180.1,290.6V305.0"/>
<path d="M178.0,295.6H226.1"/><path d="M202.3,291.4V300.0"/>
<path d="M171.2,304.0H200.3"/><path d="M185.8,297.6V310.5"/>
<path d="M111.9,307.5H197.9"/><path d="M170.1,301.6V313.5"/>
<path d="M140.0,311.0H204.7"/><path d="M177.2,307.0V314.0"/>
<path d="M208.1,274.9H220.6"/><path d="M214.4,269.1V280.9"/>
<path d="M205.7,271.4H252.9"/><path d="M229.3,265.1V278.5"/>
<path d="M219.1,275.4H241.1"/><path d="M235.1,259.6V290.3"/>
<path d="M219.1,277.7H280.8"/><path d="M250.0,272.2V282.4"/>
<path d="M196.0,287.1H226.0"/><path d="M213.1,277.7V299.7"/>
<path d="M213.6,287.1H247.4"/><path d="M231.2,283.2V291.0"/>
<path d="M150.0,298.9H281.9"/><path d="M243.4,296.0V301.5"/>
<path d="M189.3,320.5H206.3"/><path d="M197.6,318.0V323.0"/>
<path d="M377.2,297.2H404.7"/><path d="M390.8,295.5V299.0"/>
<path d="M79.5,301.0H98.9"/><path d="M88.8,295.0V310.9"/>
<path d="M101.2,311.0H147.2"/><path d="M123.6,307.9V316.5"/>
<path d="M126.8,314.5H151.1"/><path d="M138.9,311.0V317.3"/>
<path d="M119.4,320.1H158.7"/><path d="M138.9,316.5V324.4"/>
<path d="M84.6,318.1H100.0"/><path d="M91.5,313.2V322.3"/>
<path d="M88.0,318.3H105.8"/><path d="M95.7,313.7V323.5"/>
<path d="M70.1,322.9H86.3"/><path d="M78.3,321.2V325.7"/>
<path d="M72.4,327.5H82.3"/><path d="M78.9,325.7V330.9"/>
<path d="M72.4,330.0H96.4"/><path d="M84.3,326.3V335.5"/>
<path d="M70.1,334.1H80.0"/><path d="M74.9,330.9V338.3"/>
<path d="M106.0,334.9H110.0"/><path d="M107.9,326.9V343.5"/>
<path d="M50.3,341.0H57.2"/><path d="M53.4,339.0V343.0"/>
<path d="M612,77.8H692"/>
</g>
<g clip-path="url(#ax)" fill="#000" fill-opacity="0.45">
<circle cx="143.0" cy="69.4" r="2.6"/>
<circle cx="213.1" cy="20.5" r="2.6"/>
<circle cx="341.5" cy="12.8" r="2.6"/>
<circle cx="365.6" cy="5.0" r="2.6"/>
<circle cx="341.4" cy="71.0" r="2.6"/>
<circle cx="412.5" cy="1.2" r="2.6"/>
<circle cx="452.2" cy="7.5" r="2.6"/>
<circle cx="370.4" cy="22.3" r="2.6"/>
<circle cx="400.3" cy="60.7" r="2.6"/>
<circle cx="369.9" cy="88.3" r="2.6"/>
<circle cx="621.7" cy="34.1" r="2.6"/>
<circle cx="613.3" cy="83.1" r="2.6"/>
<circle cx="523.1" cy="101.6" r="2.6"/>
<circle cx="572.0" cy="114.8" r="2.6"/>
<circle cx="211.9" cy="100.2" r="2.6"/>
<circle cx="128.6" cy="154.1" r="2.6"/>
<circle cx="166.1" cy="153.4" r="2.6"/>
<circle cx="193.7" cy="139.6" r="2.6"/>
<circle cx="198.2" cy="182.4" r="2.6"/>
<circle cx="199.8" cy="191.6" r="2.6"/>
<circle cx="303.2" cy="109.6" r="2.6"/>
<circle cx="260.4" cy="118.9" r="2.6"/>
<circle cx="287.8" cy="122.4" r="2.6"/>
<circle cx="267.3" cy="145.6" r="2.6"/>
<circle cx="274.0" cy="152.3" r="2.6"/>
<circle cx="246.5" cy="157.8" r="2.6"/>
<circle cx="324.1" cy="147.0" r="2.6"/>
<circle cx="358.2" cy="140.3" r="2.6"/>
<circle cx="322.4" cy="159.0" r="2.6"/>
<circle cx="208.8" cy="176.4" r="2.6"/>
<circle cx="316.5" cy="187.6" r="2.6"/>
<circle cx="334.9" cy="196.6" r="2.6"/>
<circle cx="380.4" cy="151.1" r="2.6"/>
<circle cx="487.3" cy="177.3" r="2.6"/>
<circle cx="526.5" cy="159.4" r="2.6"/>
<circle cx="175.1" cy="203.2" r="2.6"/>
<circle cx="150.4" cy="208.0" r="2.6"/>
<circle cx="128.7" cy="215.8" r="2.6"/>
<circle cx="173.8" cy="212.0" r="2.6"/>
<circle cx="183.2" cy="210.2" r="2.6"/>
<circle cx="186.0" cy="211.5" r="2.6"/>
<circle cx="189.8" cy="216.9" r="2.6"/>
<circle cx="177.1" cy="240.2" r="2.6"/>
<circle cx="200.7" cy="234.7" r="2.6"/>
<circle cx="201.8" cy="253.7" r="2.6"/>
<circle cx="136.7" cy="241.6" r="2.6"/>
<circle cx="118.1" cy="252.9" r="2.6"/>
<circle cx="229.0" cy="211.1" r="2.6"/>
<circle cx="245.3" cy="212.5" r="2.6"/>
<circle cx="249.4" cy="222.7" r="2.6"/>
<circle cx="232.8" cy="239.8" r="2.6"/>
<circle cx="215.6" cy="238.6" r="2.6"/>
<circle cx="226.1" cy="245.0" r="2.6"/>
<circle cx="246.3" cy="240.5" r="2.6"/>
<circle cx="316.0" cy="232.5" r="2.6"/>
<circle cx="313.6" cy="234.2" r="2.6"/>
<circle cx="357.0" cy="213.4" r="2.6"/>
<circle cx="361.3" cy="236.3" r="2.6"/>
<circle cx="391.7" cy="236.5" r="2.6"/>
<circle cx="232.7" cy="251.3" r="2.6"/>
<circle cx="269.8" cy="251.3" r="2.6"/>
<circle cx="502.5" cy="230.6" r="2.6"/>
<circle cx="533.1" cy="221.4" r="2.6"/>
<circle cx="572.4" cy="219.5" r="2.6"/>
<circle cx="596.2" cy="237.3" r="2.6"/>
<circle cx="127.2" cy="265.5" r="2.6"/>
<circle cx="129.8" cy="267.8" r="2.6"/>
<circle cx="139.0" cy="274.9" r="2.6"/>
<circle cx="143.7" cy="264.6" r="2.6"/>
<circle cx="164.6" cy="263.9" r="2.6"/>
<circle cx="122.5" cy="274.9" r="2.6"/>
<circle cx="129.9" cy="289.5" r="2.6"/>
<circle cx="108.0" cy="291.8" r="2.6"/>
<circle cx="108.0" cy="300.6" r="2.6"/>
<circle cx="101.0" cy="298.1" r="2.6"/>
<circle cx="128.5" cy="298.1" r="2.6"/>
<circle cx="141.8" cy="298.1" r="2.6"/>
<circle cx="145.6" cy="299.7" r="2.6"/>
<circle cx="160.7" cy="297.3" r="2.6"/>
<circle cx="122.3" cy="306.0" r="2.6"/>
<circle cx="133.5" cy="304.8" r="2.6"/>
<circle cx="139.0" cy="307.7" r="2.6"/>
<circle cx="149.4" cy="305.0" r="2.6"/>
<circle cx="187.4" cy="282.7" r="2.6"/>
<circle cx="181.1" cy="289.0" r="2.6"/>
<circle cx="189.8" cy="288.4" r="2.6"/>
<circle cx="180.1" cy="298.8" r="2.6"/>
<circle cx="202.3" cy="295.6" r="2.6"/>
<circle cx="185.8" cy="304.0" r="2.6"/>
<circle cx="170.1" cy="307.5" r="2.6"/>
<circle cx="177.2" cy="311.0" r="2.6"/>
<circle cx="214.4" cy="274.9" r="2.6"/>
<circle cx="229.3" cy="271.4" r="2.6"/>
<circle cx="235.1" cy="275.4" r="2.6"/>
<circle cx="250.0" cy="277.7" r="2.6"/>
<circle cx="213.1" cy="287.1" r="2.6"/>
<circle cx="231.2" cy="287.1" r="2.6"/>
<circle cx="243.4" cy="298.9" r="2.6"/>
<circle cx="197.6" cy="320.5" r="2.6"/>
<circle cx="390.8" cy="297.2" r="2.6"/>
<circle cx="88.8" cy="301.0" r="2.6"/>
<circle cx="123.6" cy="311.0" r="2.6"/>
<circle cx="138.9" cy="314.5" r="2.6"/>
<circle cx="138.9" cy="320.1" r="2.6"/>
<circle cx="91.5" cy="318.1" r="2.6"/>
<circle cx="95.7" cy="318.3" r="2.6"/>
<circle cx="78.3" cy="322.9" r="2.6"/>
<circle cx="78.9" cy="327.5" r="2.6"/>
<circle cx="84.3" cy="330.0" r="2.6"/>
<circle cx="74.9" cy="334.1" r="2.6"/>
<circle cx="107.9" cy="334.9" r="2.6"/>
<circle cx="53.4" cy="341.0" r="2.6"/>
</g>
<path d="M385.2,149.4H567.5M476.6,138V159" stroke="#ff2020" stroke-width="1.2" fill="none" clip-path="url(#ax)"/>
<rect x="471.15000000000003" y="144.05" width="10.9" height="10.7" fill="#ff1414"/>
<path d="M471.15000000000003,149.4H482.05M476.6,144.05V154.75" stroke="#b00000" stroke-opacity="0.25" stroke-width="1.2" fill="none"/>
<text x="76.10" y="15.40" font-size="15" font-style="italic" fill="#7e7e7e" textLength="8.4" lengthAdjust="spacingAndGlyphs">ρ</text><text x="84.10" y="17.80" font-size="10.5" font-style="italic" fill="#7e7e7e" textLength="7.6" lengthAdjust="spacingAndGlyphs">P</text><path d="M96.10,10.40H106.20M96.10,13.70H106.20" stroke="#7e7e7e" stroke-width="0.9"/><text x="111.60" y="15.40" font-size="14.2" fill="#7e7e7e" textLength="32.35" lengthAdjust="spacingAndGlyphs">0.010</text><text x="145.60" y="15.40" font-size="15" font-style="italic" fill="#7e7e7e" textLength="8.4" lengthAdjust="spacingAndGlyphs">ρ</text><g fill="none" stroke="#7e7e7e" stroke-width="0.6"><circle cx="157.00" cy="15.30" r="3.20"/><path d="M153.80,15.30H160.20M157.00,12.10V18.50"/></g>
<text x="131.10" y="38.40" font-size="15" font-style="italic" fill="#7e7e7e" textLength="8.4" lengthAdjust="spacingAndGlyphs">ρ</text><text x="139.10" y="40.80" font-size="10.5" font-style="italic" fill="#7e7e7e" textLength="7.6" lengthAdjust="spacingAndGlyphs">P</text><path d="M151.10,33.40H161.20M151.10,36.70H161.20" stroke="#7e7e7e" stroke-width="0.9"/><text x="166.60" y="38.40" font-size="14.2" fill="#7e7e7e" textLength="32.35" lengthAdjust="spacingAndGlyphs">0.031</text><text x="199.80" y="38.40" font-size="15" font-style="italic" fill="#7e7e7e" textLength="8.4" lengthAdjust="spacingAndGlyphs">ρ</text><g fill="none" stroke="#7e7e7e" stroke-width="0.6"><circle cx="211.30" cy="38.30" r="3.20"/><path d="M208.10,38.30H214.50M211.30,35.10V41.50"/></g>
<text x="266.10" y="98.30" font-size="15" font-style="italic" fill="#7e7e7e" textLength="8.4" lengthAdjust="spacingAndGlyphs">ρ</text><text x="274.10" y="100.70" font-size="10.5" font-style="italic" fill="#7e7e7e" textLength="7.6" lengthAdjust="spacingAndGlyphs">P</text><path d="M286.10,93.30H296.20M286.10,96.60H296.20" stroke="#7e7e7e" stroke-width="0.9"/><text x="301.60" y="98.30" font-size="14.2" fill="#7e7e7e" textLength="32.35" lengthAdjust="spacingAndGlyphs">0.125</text><text x="334.80" y="98.30" font-size="15" font-style="italic" fill="#7e7e7e" textLength="8.4" lengthAdjust="spacingAndGlyphs">ρ</text><g fill="none" stroke="#7e7e7e" stroke-width="0.6"><circle cx="346.40" cy="97.90" r="3.20"/><path d="M343.20,97.90H349.60M346.40,94.70V101.10"/></g>
<text x="387.70" y="189.50" font-size="15" font-style="italic" fill="#7e7e7e" textLength="8.4" lengthAdjust="spacingAndGlyphs">ρ</text><text x="395.70" y="191.90" font-size="10.5" font-style="italic" fill="#7e7e7e" textLength="7.6" lengthAdjust="spacingAndGlyphs">P</text><path d="M407.70,184.50H417.80M407.70,187.80H417.80" stroke="#7e7e7e" stroke-width="0.9"/><text x="423.20" y="189.50" font-size="14.2" fill="#7e7e7e" textLength="18.15" lengthAdjust="spacingAndGlyphs">0.5</text><text x="442.30" y="189.50" font-size="15" font-style="italic" fill="#7e7e7e" textLength="8.4" lengthAdjust="spacingAndGlyphs">ρ</text><g fill="none" stroke="#7e7e7e" stroke-width="0.6"><circle cx="453.60" cy="189.20" r="3.20"/><path d="M450.40,189.20H456.80M453.60,186.00V192.40"/></g>
<text x="474.90" y="267.50" font-size="15" font-style="italic" fill="#7e7e7e" textLength="8.4" lengthAdjust="spacingAndGlyphs">ρ</text><text x="482.90" y="269.90" font-size="10.5" font-style="italic" fill="#7e7e7e" textLength="7.6" lengthAdjust="spacingAndGlyphs">P</text><path d="M494.90,262.50H505.00M494.90,265.80H505.00" stroke="#7e7e7e" stroke-width="0.9"/><text x="510.40" y="267.50" font-size="14.2" fill="#7e7e7e" textLength="7.10" lengthAdjust="spacingAndGlyphs">2</text><text x="517.60" y="267.50" font-size="15" font-style="italic" fill="#7e7e7e" textLength="8.4" lengthAdjust="spacingAndGlyphs">ρ</text><g fill="none" stroke="#7e7e7e" stroke-width="0.6"><circle cx="529.60" cy="267.20" r="3.20"/><path d="M526.40,267.20H532.80M529.60,264.00V270.40"/></g>
<text x="496.90" y="298.50" font-size="15" font-style="italic" fill="#7e7e7e" textLength="8.4" lengthAdjust="spacingAndGlyphs">ρ</text><text x="504.90" y="300.90" font-size="10.5" font-style="italic" fill="#7e7e7e" textLength="7.6" lengthAdjust="spacingAndGlyphs">P</text><path d="M516.90,293.50H527.00M516.90,296.80H527.00" stroke="#7e7e7e" stroke-width="0.9"/><text x="532.40" y="298.50" font-size="14.2" fill="#7e7e7e" textLength="7.10" lengthAdjust="spacingAndGlyphs">4</text><text x="539.60" y="298.50" font-size="15" font-style="italic" fill="#7e7e7e" textLength="8.4" lengthAdjust="spacingAndGlyphs">ρ</text><g fill="none" stroke="#7e7e7e" stroke-width="0.6"><circle cx="551.40" cy="298.80" r="3.20"/><path d="M548.20,298.80H554.60M551.40,295.60V302.00"/></g>
<path d="M38.5,0.5H692.2" stroke="#505050" stroke-width="1"/>
<path d="M38.5,382.6H692.2M38.5,0V382.6M692.2,0V382.6" stroke="#858585" stroke-width="1" fill="none"/>
<line x1="38.40" y1="382.6" x2="38.40" y2="385.0" stroke="#5a5a5a" stroke-width="0.9"/>
<text transform="translate(38.40,398.6) scale(1.07,1)" font-size="17.6" text-anchor="middle" fill="#000">0</text>
<line x1="147.40" y1="382.6" x2="147.40" y2="385.0" stroke="#5a5a5a" stroke-width="0.9"/>
<text transform="translate(147.40,398.6) scale(1.07,1)" font-size="17.6" text-anchor="middle" fill="#000">5</text>
<line x1="256.40" y1="382.6" x2="256.40" y2="385.0" stroke="#5a5a5a" stroke-width="0.9"/>
<text transform="translate(256.40,398.6) scale(1.07,1)" font-size="17.6" text-anchor="middle" fill="#000">10</text>
<line x1="365.40" y1="382.6" x2="365.40" y2="385.0" stroke="#5a5a5a" stroke-width="0.9"/>
<text transform="translate(365.40,398.6) scale(1.07,1)" font-size="17.6" text-anchor="middle" fill="#000">15</text>
<line x1="474.40" y1="382.6" x2="474.40" y2="385.0" stroke="#5a5a5a" stroke-width="0.9"/>
<text transform="translate(474.40,398.6) scale(1.07,1)" font-size="17.6" text-anchor="middle" fill="#000">20</text>
<line x1="583.40" y1="382.6" x2="583.40" y2="385.0" stroke="#5a5a5a" stroke-width="0.9"/>
<text transform="translate(583.40,398.6) scale(1.07,1)" font-size="17.6" text-anchor="middle" fill="#000">25</text>
<line x1="692.40" y1="382.6" x2="692.40" y2="385.0" stroke="#5a5a5a" stroke-width="0.9"/>
<text transform="translate(692.40,398.6) scale(1.07,1)" font-size="17.6" text-anchor="middle" fill="#000">30</text>
<line x1="36.1" y1="344.40" x2="38.5" y2="344.40" stroke="#5a5a5a" stroke-width="0.9"/>
<text transform="translate(34.6,350.20) scale(1.07,1)" font-size="17.6" text-anchor="end" fill="#000">1</text>
<line x1="36.1" y1="268.00" x2="38.5" y2="268.00" stroke="#5a5a5a" stroke-width="0.9"/>
<text transform="translate(34.6,273.80) scale(1.07,1)" font-size="17.6" text-anchor="end" fill="#000">2</text>
<line x1="36.1" y1="191.60" x2="38.5" y2="191.60" stroke="#5a5a5a" stroke-width="0.9"/>
<text transform="translate(34.6,197.40) scale(1.07,1)" font-size="17.6" text-anchor="end" fill="#000">3</text>
<line x1="36.1" y1="115.20" x2="38.5" y2="115.20" stroke="#5a5a5a" stroke-width="0.9"/>
<text transform="translate(34.6,121.00) scale(1.07,1)" font-size="17.6" text-anchor="end" fill="#000">4</text>
<line x1="36.1" y1="38.80" x2="38.5" y2="38.80" stroke="#5a5a5a" stroke-width="0.9"/>
<text transform="translate(34.6,44.60) scale(1.07,1)" font-size="17.6" text-anchor="end" fill="#000">5</text>
<text x="307.6" y="422.3" font-size="24" fill="#000" textLength="51.5" lengthAdjust="spacingAndGlyphs">Mass</text><text x="368.6" y="423.4" font-size="27" fill="#000" textLength="7.2" lengthAdjust="spacingAndGlyphs">(</text><text x="377.6" y="422.4" font-size="24" font-style="italic" fill="#000" textLength="23.6" lengthAdjust="spacingAndGlyphs">M</text><g fill="none" stroke="#000" stroke-width="0.8"><circle cx="405.50" cy="422.00" r="5.10"/><path d="M400.40,422.00H410.60M405.50,416.90V427.10"/></g><text x="414.2" y="423.4" font-size="27" fill="#000" textLength="7.2" lengthAdjust="spacingAndGlyphs">)</text>
<g transform="translate(17.5,0) rotate(-90)"><text x="-256.2" y="0" font-size="24" fill="#000" textLength="72.5" lengthAdjust="spacingAndGlyphs">Radius</text><text x="-175.8" y="1.1" font-size="27" fill="#000" textLength="7.2" lengthAdjust="spacingAndGlyphs">(</text><text x="-166.9" y="0" font-size="24" font-style="italic" fill="#000" textLength="19.4" lengthAdjust="spacingAndGlyphs">R</text><g fill="none" stroke="#000" stroke-width="0.8"><circle cx="-144.20" cy="-0.10" r="5.10"/><path d="M-149.30,-0.10H-139.10M-144.20,-5.20V5.00"/></g><text x="-138.0" y="1.1" font-size="27" fill="#000" textLength="7.2" lengthAdjust="spacingAndGlyphs">)</text></g>
<rect x="470.0" y="348.4" width="214.2" height="26.9" rx="2.5" fill="#fff" fill-opacity="0.8" stroke="#dcdcdc" stroke-width="1"/>
<rect x="484.9" y="356.1" width="11.1" height="11" fill="#ff1414"/>
<text x="516.6" y="365.9" font-size="15.5" fill="#000" textLength="22.2" lengthAdjust="spacingAndGlyphs">HD</text>
<text x="541.6" y="365.9" font-size="15.5" fill="#000" textLength="51.8" lengthAdjust="spacingAndGlyphs">183579b</text>
<text x="598.2" y="365.9" font-size="15.5" fill="#000" textLength="80.0" lengthAdjust="spacingAndGlyphs">(TOI-1055b)</text>
</svg></body></html>
